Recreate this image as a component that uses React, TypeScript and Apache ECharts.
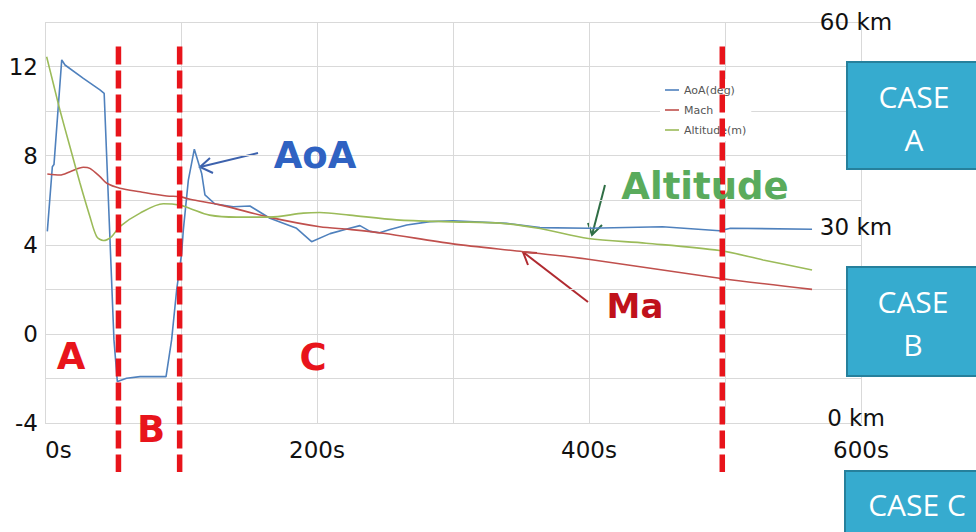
import React, { useEffect, useRef } from 'react';
import * as echarts from 'echarts';

// Flight time (s) and angle of attack (deg)
const aoaTime = [1.7, 5.4, 6.6, 12.3, 14.7, 28.2, 40.4, 43.5, 47.8, 50.7, 53.2, 60, 69.9, 89, 93.1, 96.8, 100.5, 101.7, 105.4, 109.8, 115.2, 117.6, 125, 138.5, 150.7, 165.4, 185, 196, 209.6, 224, 231.6, 239, 246, 253.7, 266, 283, 300, 339.5, 364, 400, 454, 496, 504, 564];
const aoaDeg = [4.6, 7.5, 7.6, 12.3, 12.07, 11.47, 10.95, 10.8, 4.2, -0.27, -2.14, -1.99, -1.92, -1.92, -0.27, 1.97, 3.63, 4.66, 6.9, 8.29, 7.2, 6.24, 5.83, 5.71, 5.74, 5.19, 4.74, 4.14, 4.5, 4.74, 4.86, 4.6, 4.54, 4.69, 4.89, 5.04, 5.08, 4.96, 4.77, 4.74, 4.81, 4.63, 4.74, 4.7];

// Mach number
const machTime = [1.7, 11, 18.4, 28.2, 33, 40.4, 45.4, 55.1, 69.9, 89.5, 99.3, 106.6, 128.7, 165.4, 202, 224, 248.8, 300, 351.6, 399.5, 496, 564];
const machValue = [7.18, 7.13, 7.28, 7.48, 7.43, 7.06, 6.76, 6.54, 6.38, 6.19, 6.16, 6.04, 5.79, 5.23, 4.81, 4.69, 4.52, 4.04, 3.69, 3.35, 2.5, 2.0];

// Altitude (m)
const altTime = [1.2, 6.1, 11, 18.4, 25.7, 33, 38, 42.9, 49, 55, 69.9, 87, 99.3, 106.6, 121, 141, 165, 190, 202, 224, 258.6, 300, 334.6, 364, 399.5, 442, 496, 528, 564];
const altMeters = [54800, 50800, 46800, 41300, 35900, 30900, 27900, 27300, 27900, 29400, 31400, 32800, 32600, 32100, 31100, 30800, 30800, 31400, 31500, 31100, 30400, 30100, 29900, 29100, 27600, 26900, 25800, 24400, 22900];

// Phase boundaries (s)
const phaseBoundaries = [54, 99, 498];

const seriesNames = ['AoA(deg)', 'Mach', 'Altitude(m)'];
const seriesColors = ['#4f81bd', '#c0504d', '#9bbb59'];

const zip = (xs: number[], ys: number[]) => xs.map((x, i) => [x, ys[i]]);

const FONT = '"DejaVu Sans", Verdana, sans-serif';
const CASE_FONT = '"Open Sans", "Noto Sans", sans-serif';

const caseBox = (x: number, y: number, w: number, h: number) => ({
  type: 'rect',
  shape: { x, y, width: w, height: h },
  style: { fill: '#36abcf', stroke: '#26809c', lineWidth: 2 },
  z: 20,
});

const caseText = (text: string, x: number, y: number) => ({
  type: 'text',
  x,
  y,
  z: 21,
  style: { text, fill: '#ffffff', font: `30px ${CASE_FONT}`, align: 'center', verticalAlign: 'middle' },
});

const bigLabel = (text: string, x: number, y: number, color: string, size: number) => ({
  type: 'text',
  x,
  y,
  z: 15,
  style: { text, fill: color, font: `bold ${size}px ${FONT}`, align: 'center', verticalAlign: 'middle' },
});

const arrow = (from: number[], to: number[], wingA: number[], wingB: number[], color: string) => ({
  type: 'group',
  z: 15,
  children: [
    { type: 'polyline', shape: { points: [from, to] }, style: { stroke: color, lineWidth: 2, fill: null } },
    { type: 'polyline', shape: { points: [wingA, to, wingB] }, style: { stroke: color, lineWidth: 2, fill: null } },
  ],
});

export default function App() {
  const ref = useRef<HTMLDivElement>(null);

  useEffect(() => {
    if (!ref.current) return;
    const chart = echarts.init(ref.current, null, { renderer: 'svg' });

    const option = {
      animation: false,
      textStyle: { fontFamily: FONT },
      grid: { left: 45, right: 115, top: 22, bottom: 109, containLabel: false },
      legend: {
        data: seriesNames,
        orient: 'vertical',
        left: 660,
        top: 79,
        padding: [5, 5, 5, 5],
        icon: 'path://M0,0L14,0L14,1.6L0,1.6Z',
        itemWidth: 14,
        itemHeight: 12,
        itemGap: 8,
        backgroundColor: '#ffffff',
        textStyle: { fontSize: 11, color: '#555555', fontFamily: FONT, lineHeight: 12 },
        z: 4,
      },
      xAxis: {
        type: 'value',
        min: 0,
        max: 600,
        interval: 100,
        axisLine: { show: false },
        axisTick: { show: false },
        splitLine: { show: true, lineStyle: { color: '#d9d9d9', width: 1 } },
        axisLabel: {
          fontSize: 23,
          color: '#111111',
          margin: 15,
          alignMinLabel: 'left',
          formatter: (v: number) => (v % 200 === 0 ? `${v}s` : ''),
        },
      },
      yAxis: [
        {
          type: 'value',
          min: -4,
          max: 14,
          interval: 2,
          axisLine: { show: false },
          axisTick: { show: false },
          splitLine: { show: true, lineStyle: { color: '#d9d9d9', width: 1 } },
          axisLabel: {
            fontSize: 23,
            color: '#111111',
            margin: 7,
            formatter: (v: number) => (v % 4 === 0 && v <= 12 ? `${v}` : ''),
          },
        },
        {
          type: 'value',
          position: 'right',
          min: 0,
          max: 60000,
          interval: 30000,
          axisLine: { show: false },
          axisTick: { show: false },
          splitLine: { show: false },
          axisLabel: {
            fontSize: 23,
            color: '#111111',
            margin: -5,
            align: 'center',
            formatter: (v: number) => {
              const txt = `${v / 1000} km`;
              if (v === 0) return `{low|${txt}}`;
              if (v === 30000) return `{mid|${txt}}`;
              return txt;
            },
            rich: {
              low: { fontSize: 23, color: '#111111', padding: [0, 0, 10, 0] },
              mid: { fontSize: 23, color: '#111111', padding: [8, 0, 0, 0] },
            },
          },
        },
      ],
      series: [
        {
          name: seriesNames[0],
          type: 'line',
          data: zip(aoaTime, aoaDeg),
          yAxisIndex: 0,
          symbol: 'none',
          lineStyle: { color: seriesColors[0], width: 1.6 },
          itemStyle: { color: seriesColors[0] },
        },
        {
          name: seriesNames[1],
          type: 'line',
          data: zip(machTime, machValue),
          yAxisIndex: 0,
          symbol: 'none',
          smooth: 0.3,
          lineStyle: { color: seriesColors[1], width: 1.6 },
          itemStyle: { color: seriesColors[1] },
        },
        {
          name: seriesNames[2],
          type: 'line',
          data: zip(altTime, altMeters),
          yAxisIndex: 1,
          symbol: 'none',
          smooth: 0.3,
          lineStyle: { color: seriesColors[2], width: 1.6 },
          itemStyle: { color: seriesColors[2] },
        },
        {
          name: 'phase',
          type: 'custom',
          data: phaseBoundaries.map((t) => [t, 0]),
          yAxisIndex: 0,
          silent: true,
          clip: false,
          z: 10,
          renderItem: (_params: any, api: any) => {
            const t = api.value(0);
            const top = api.coord([t, 12.9]);
            const bottom = api.coord([t, -6.2]);
            return {
              type: 'line',
              shape: { x1: top[0], y1: top[1], x2: bottom[0], y2: bottom[1] },
              style: { stroke: '#e8141b', lineWidth: 5.5, lineDash: [18, 6] },
            };
          },
        },
      ],
      graphic: [
        bigLabel('AoA', 315, 155, '#2f62c2', 37),
        bigLabel('Altitude', 705, 186, '#5aab5c', 37),
        bigLabel('Ma', 635, 306, '#c0111b', 34),
        bigLabel('A', 71, 356, '#e8141b', 37),
        bigLabel('B', 151, 429, '#e8141b', 37),
        bigLabel('C', 313, 357, '#e8141b', 37),
        arrow([258, 153], [200, 167], [210, 158], [213, 173], '#3d62ad'),
        arrow([605, 185], [592, 235], [588, 223], [602, 225], '#2f6e45'),
        arrow([588, 302], [523, 252], [537, 253], [528, 265], '#b02a30'),
        caseBox(847, 62, 130, 107),
        caseText('CASE', 914, 96),
        caseText('A', 914, 139),
        caseBox(847, 267, 130, 109),
        caseText('CASE', 913, 301),
        caseText('B', 913, 344),
        caseBox(845, 471, 132, 70),
        caseText('CASE C', 917, 504),
      ],
    };

    chart.setOption(option as any);
    return () => chart.dispose();
  }, []);

  return (
    <div
      ref={ref}
      style={{ position: 'fixed', left: 0, top: 0, width: 976, height: 532, background: '#ffffff' }}
    />
  );
}
